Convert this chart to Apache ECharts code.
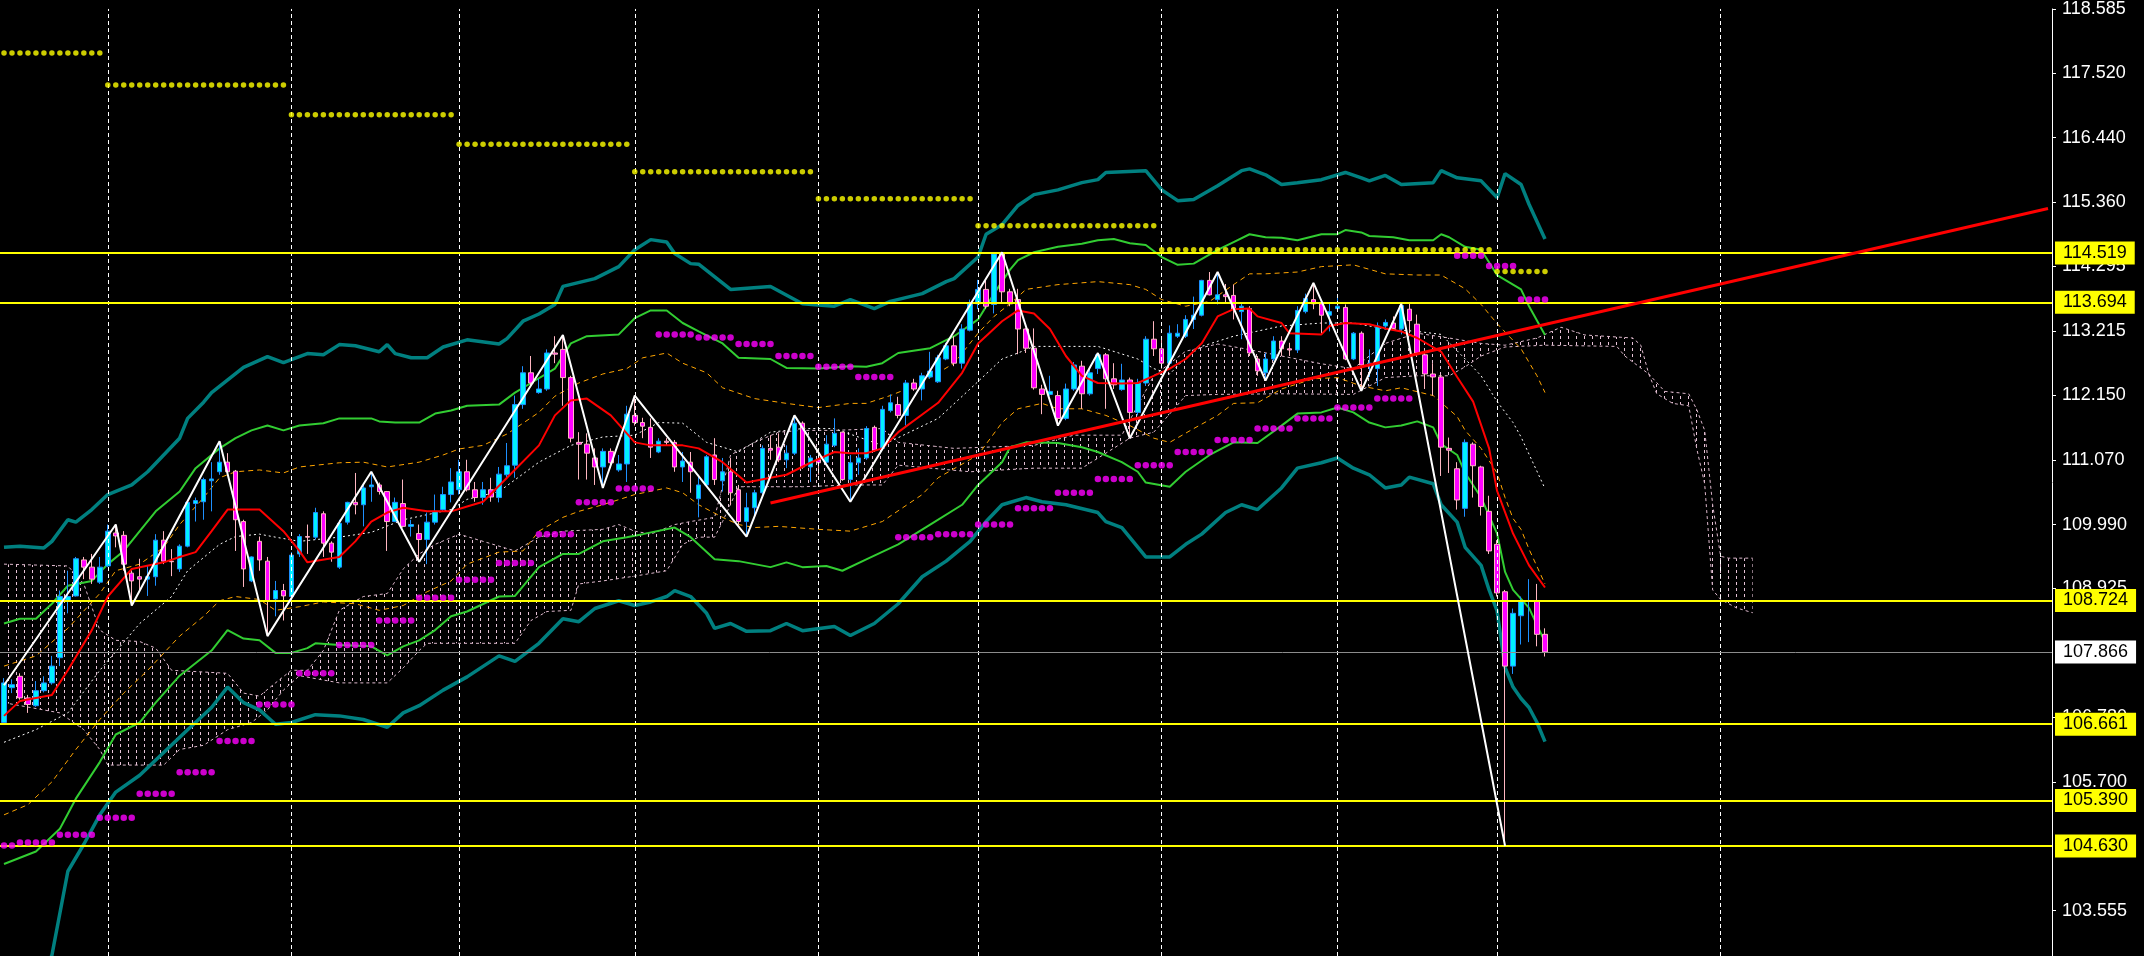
<!DOCTYPE html>
<html><head><meta charset="utf-8">
<script src="https://cdn.jsdelivr.net/npm/echarts@6/dist/echarts.min.js"></script>
<style>html,body{margin:0;padding:0;background:#000;}#c{width:2144px;height:956px;}</style>
</head><body><div id="c"></div>
<script>
// ---------- DATA ----------
const barCount = 257; // 194 price bars + future space
const categories = Array.from({length: barCount}, (_, i) => String(i));

const open = [106.69,107.27,107.46,107.10,106.97,107.22,107.35,107.77,108.71,108.80,
109.40,109.28,109.03,109.30,109.85,109.81,109.18,109.12,109.08,109.12,
109.73,109.38,109.25,109.63,110.34,110.37,110.72,110.87,111.03,110.88,
110.04,109.05,109.71,109.38,108.75,108.89,108.79,109.50,109.79,109.78,
110.17,109.68,109.28,110.03,110.36,110.32,110.62,110.65,110.54,110.04,
110.34,109.96,109.84,109.74,110.03,110.24,110.49,110.57,110.87,110.57,
110.44,110.57,110.44,110.82,110.98,111.99,112.52,112.19,112.25,112.85,
112.91,112.44,111.36,111.33,111.10,110.95,111.21,110.90,111.00,111.81,
111.69,111.61,111.20,111.38,111.36,110.95,111.03,110.42,110.65,111.15,
110.72,110.87,110.57,110.04,110.27,110.52,111.26,111.28,111.07,111.18,
111.68,110.95,111.07,111.03,111.31,111.53,110.74,111.02,111.10,111.61,
111.26,111.89,111.99,111.81,112.35,112.25,112.45,112.37,112.75,112.97,
112.68,113.23,113.67,113.91,113.66,114.50,113.87,113.74,113.25,112.93,
112.25,112.16,112.14,111.76,112.25,112.63,112.17,112.59,112.82,112.42,
112.24,112.40,111.86,112.35,113.08,112.92,112.68,113.13,113.13,113.41,
113.48,114.06,113.74,113.82,113.81,113.54,113.59,112.75,112.52,112.75,
113.05,112.92,112.90,113.54,113.74,113.67,113.48,113.59,113.61,112.75,
113.18,112.65,112.59,113.30,113.35,113.25,113.58,113.33,112.82,112.50,
112.45,111.26,110.92,110.26,111.33,110.95,110.21,109.66,108.87,107.63,
108.47,108.71,108.72,108.16];
const close = [107.35,107.32,107.10,106.99,107.22,107.35,107.63,108.79,108.79,109.42,
109.28,109.08,109.28,109.88,109.80,109.33,109.05,109.08,109.12,109.73,
109.38,109.37,109.63,110.36,110.39,110.74,110.75,111.03,110.87,110.07,
109.25,109.45,109.40,108.72,108.89,108.80,109.48,109.79,109.78,110.19,
109.68,109.53,110.01,110.36,110.32,110.60,110.65,110.54,110.04,110.36,
109.96,109.99,109.74,110.03,110.21,110.49,110.70,110.87,110.57,110.44,
110.57,110.45,110.83,110.97,111.99,112.52,112.35,112.25,112.85,112.83,
112.44,111.43,111.33,111.18,110.95,111.21,111.02,111.00,111.83,111.69,
111.63,111.28,111.38,111.36,110.95,111.05,110.87,110.65,111.12,110.74,
110.87,110.52,110.04,110.27,110.52,111.26,111.23,111.07,111.18,111.68,
110.95,111.10,111.02,111.33,111.51,110.74,111.02,111.10,111.59,111.23,
111.91,112.02,111.81,112.35,112.25,112.47,112.55,112.77,112.97,112.68,
113.25,113.67,113.91,113.63,114.50,113.87,113.67,113.25,112.93,112.27,
112.16,112.21,111.76,112.25,112.65,112.17,112.52,112.82,112.42,112.32,
112.40,111.86,112.35,113.08,112.92,112.68,113.18,113.18,113.41,113.48,
114.06,113.82,113.82,113.79,113.58,113.63,112.85,112.55,112.75,113.05,
112.92,112.90,113.56,113.76,113.67,113.48,113.54,113.63,112.75,113.18,
112.65,112.68,113.30,113.36,113.26,113.64,113.39,112.85,112.50,112.45,
111.28,111.23,110.40,111.36,110.97,110.29,109.55,108.85,107.63,108.51,
108.72,108.72,108.16,107.866];
const low = [106.66,107.18,107.07,106.85,106.95,107.19,107.32,107.63,108.51,108.79,
109.08,109.00,109.00,109.28,109.61,109.22,108.64,108.89,108.80,108.97,
109.33,109.13,109.20,109.61,110.04,110.07,110.21,110.82,110.82,109.55,
108.95,109.03,109.22,108.13,108.46,108.39,108.72,109.45,109.50,109.74,
109.45,109.37,109.25,109.99,110.16,109.96,110.37,110.49,109.55,110.03,
109.94,109.79,109.37,109.33,109.99,110.21,110.36,110.49,110.54,110.37,
110.32,110.37,110.36,110.77,110.77,111.92,112.30,112.17,112.22,112.68,
111.97,111.36,110.74,110.74,110.65,110.60,110.93,110.87,110.70,111.64,
111.43,111.10,111.18,111.31,110.87,110.70,110.52,110.11,110.62,110.65,
110.54,110.32,109.99,109.79,110.11,110.49,111.07,111.03,110.93,111.15,
110.92,110.70,110.82,111.02,111.28,110.72,110.37,110.82,111.07,111.20,
111.23,111.86,111.76,111.64,112.22,112.06,112.42,112.35,112.73,112.63,
112.59,113.21,113.58,113.59,113.51,113.67,113.63,112.83,112.85,112.24,
111.83,112.14,111.64,111.73,112.22,111.92,112.14,112.50,111.92,112.25,
112.22,111.43,111.81,112.30,112.80,112.59,112.67,113.10,113.10,113.25,
113.46,113.81,113.66,113.67,113.41,113.08,112.80,112.47,112.39,112.72,
112.80,112.80,112.85,113.51,113.58,113.18,113.21,113.54,112.73,112.73,
112.22,112.45,112.30,113.25,113.25,113.16,113.18,112.80,112.25,112.14,
110.80,110.85,110.24,110.12,110.44,110.14,109.50,108.79,104.63,107.50,
107.99,108.03,107.96,107.79];
const high = [107.43,107.41,107.51,107.15,107.38,107.46,107.80,108.89,109.22,109.45,
109.45,109.50,109.45,109.99,109.99,109.88,109.23,109.42,109.30,109.83,
109.88,109.58,109.66,110.37,110.44,110.77,111.03,111.38,111.18,110.90,
110.07,109.46,109.79,109.45,109.05,109.00,109.53,109.83,109.99,110.27,
110.21,109.71,110.07,110.37,110.85,110.67,110.87,110.69,110.55,110.44,
110.74,110.07,109.99,110.19,110.49,110.62,110.93,111.07,111.07,110.70,
110.70,110.77,110.95,111.35,112.14,112.63,112.80,112.42,112.91,113.13,
113.15,112.47,111.53,111.51,111.26,111.26,111.26,111.15,111.97,112.14,
111.77,111.76,111.43,111.43,111.40,111.20,111.20,110.82,111.15,111.43,
111.10,111.10,110.65,110.52,110.57,111.31,111.48,111.51,111.31,111.81,
111.71,111.15,111.23,111.48,111.76,111.54,111.15,111.26,111.63,111.64,
111.97,112.16,112.12,112.40,112.42,112.52,112.87,112.82,113.02,113.13,
113.33,113.74,114.07,114.06,114.53,114.53,113.92,113.92,113.26,113.26,
112.32,112.47,112.22,112.34,112.70,112.72,112.59,112.85,112.85,112.68,
112.67,112.44,112.42,113.13,113.38,113.08,113.31,113.33,113.48,113.79,
114.07,114.20,114.20,114.00,113.99,113.67,113.63,112.80,112.85,113.13,
113.13,113.02,113.63,113.84,114.02,113.71,113.67,113.79,113.66,113.20,
113.21,112.91,113.36,113.41,113.46,113.67,113.67,113.49,112.85,112.68,
112.49,111.44,111.03,111.41,111.36,110.97,110.47,109.73,108.90,108.59,
108.79,109.08,109.00,108.26];

// indicator lines: [barIndex, price]
const bandOuterUpper = [[0,109.61],[2,109.63],[5,109.60],[6,109.71],[8,110.07],[9,110.03],[11,110.24],[13,110.49],[16,110.65],[18,110.87],[20,111.15],[22,111.43],[23,111.76],[25,112.03],[26,112.19],[30,112.61],[33,112.79],[35,112.69],[38,112.84],[40,112.82],[42,112.99],[44,112.97],[47,112.87],[48,112.99],[49,112.84],[51,112.77],[53,112.77],[55,112.95],[58,113.07],[62,113.00],[63,113.09],[65,113.38],[67,113.50],[69,113.66],[70,113.96],[74,114.09],[77,114.29],[79,114.57],[81,114.74],[83,114.70],[84,114.51],[86,114.34],[87,114.33],[91,113.91],[96,113.96],[100,113.67],[104,113.63],[106,113.74],[109,113.59],[111,113.71],[115,113.84],[118,114.04],[119,114.09],[122,114.45],[123,114.83],[125,114.99],[127,115.31],[129,115.49],[132,115.57],[135,115.69],[137,115.74],[138,115.86],[143,115.89],[145,115.57],[147,115.39],[149,115.41],[152,115.64],[155,115.89],[156,115.92],[158,115.82],[160,115.66],[162,115.69],[165,115.74],[168,115.86],[170,115.77],[171,115.72],[173,115.81],[175,115.66],[179,115.69],[180,115.89],[182,115.77],[185,115.72],[187,115.44],[188,115.84],[190,115.66],[191,115.33],[193,114.75]];
const bandOuterLower = [[0,100.91],[6,102.81],[8,104.21],[10,104.66],[12,105.15],[14,105.53],[17,105.81],[20,106.19],[23,106.57],[26,106.94],[28,107.28],[30,107.02],[32,106.90],[34,106.66],[36,106.69],[39,106.82],[42,106.80],[45,106.74],[48,106.61],[50,106.85],[52,106.97],[55,107.23],[58,107.45],[62,107.80],[64,107.71],[67,108.01],[70,108.42],[72,108.37],[74,108.59],[77,108.72],[79,108.64],[81,108.70],[83,108.79],[84,108.89],[86,108.79],[88,108.51],[89,108.26],[91,108.34],[93,108.21],[96,108.22],[98,108.34],[100,108.22],[104,108.29],[106,108.14],[109,108.34],[112,108.67],[115,109.12],[118,109.38],[121,109.71],[123,110.04],[125,110.32],[128,110.44],[130,110.37],[133,110.32],[137,110.19],[138,110.04],[140,109.94],[143,109.45],[146,109.45],[148,109.66],[150,109.83],[153,110.19],[155,110.32],[157,110.24],[160,110.60],[162,110.93],[165,111.02],[167,111.10],[169,110.93],[171,110.82],[173,110.60],[175,110.65],[176,110.78],[179,110.67],[180,110.32],[182,110.03],[183,109.61],[185,109.31],[186,108.90],[187,108.55],[188,107.61],[189,107.28],[190,107.09],[191,106.94],[192,106.69],[193,106.37]];
const bandMidUpper = [[0,108.34],[2,108.42],[4,108.42],[6,108.67],[8,108.97],[11,109.05],[13,109.33],[15,109.55],[17,109.88],[19,110.21],[22,110.54],[24,110.93],[27,111.26],[29,111.43],[31,111.56],[33,111.64],[35,111.56],[37,111.64],[40,111.68],[42,111.76],[46,111.76],[47,111.71],[49,111.69],[52,111.69],[54,111.84],[56,111.89],[58,111.97],[62,111.99],[64,112.19],[66,112.35],[69,112.59],[71,113.01],[73,113.13],[77,113.16],[79,113.43],[81,113.56],[83,113.56],[85,113.35],[87,113.21],[90,113.01],[92,112.77],[96,112.75],[98,112.60],[102,112.59],[106,112.63],[108,112.62],[110,112.68],[112,112.85],[116,112.93],[119,113.13],[122,113.41],[124,113.84],[126,114.24],[127,114.40],[129,114.53],[132,114.62],[135,114.67],[137,114.73],[139,114.75],[141,114.68],[143,114.65],[145,114.45],[147,114.32],[149,114.34],[152,114.57],[154,114.70],[156,114.83],[158,114.78],[160,114.77],[162,114.73],[165,114.83],[167,114.83],[168,114.90],[170,114.86],[171,114.80],[174,114.78],[176,114.73],[179,114.73],[180,114.83],[181,114.78],[183,114.62],[185,114.57],[187,114.15],[190,113.91],[191,113.63],[193,113.15]];
const bandMidLower = [[0,104.33],[4,104.54],[7,104.92],[9,105.42],[12,106.03],[14,106.49],[17,106.69],[19,107.02],[22,107.47],[26,107.89],[28,108.23],[30,108.09],[32,108.06],[34,107.85],[36,107.85],[38,107.93],[39,108.01],[42,107.98],[46,107.96],[48,107.81],[50,107.96],[52,108.06],[54,108.23],[56,108.46],[58,108.54],[62,108.79],[64,108.80],[67,109.28],[70,109.50],[72,109.50],[75,109.71],[78,109.78],[80,109.83],[84,109.94],[86,109.78],[89,109.41],[92,109.38],[96,109.28],[98,109.36],[100,109.28],[103,109.30],[105,109.22],[108,109.41],[112,109.66],[116,109.99],[120,110.32],[122,110.65],[125,111.03],[126,111.28],[128,111.36],[132,111.35],[135,111.28],[137,111.20],[140,111.03],[142,110.87],[143,110.69],[146,110.62],[148,110.87],[151,111.15],[154,111.36],[157,111.35],[160,111.64],[162,111.84],[165,111.86],[167,111.94],[169,111.86],[171,111.69],[173,111.61],[175,111.64],[177,111.71],[179,111.61],[180,111.33],[182,111.15],[183,110.85],[185,110.44],[187,109.84],[188,109.20],[189,108.90],[191,108.60],[193,108.03]];
const bandInnerUpper = [[0,107.63],[4,107.80],[8,108.26],[12,108.84],[14,109.22],[17,109.33],[20,109.61],[22,109.99],[25,110.44],[27,110.77],[29,110.87],[32,110.90],[35,110.85],[37,110.95],[42,111.02],[45,111.03],[48,110.95],[52,111.03],[55,111.15],[57,111.25],[60,111.31],[63,111.50],[67,111.86],[69,112.13],[72,112.35],[75,112.50],[78,112.59],[80,112.77],[83,112.85],[85,112.68],[88,112.52],[90,112.27],[94,112.09],[98,112.01],[102,111.94],[106,112.01],[108,112.01],[111,112.14],[114,112.30],[117,112.52],[119,112.68],[122,113.18],[124,113.46],[126,113.67],[128,113.91],[132,113.99],[137,114.04],[141,113.99],[143,113.91],[145,113.74],[148,113.63],[151,113.71],[154,113.99],[156,114.17],[158,114.17],[162,114.20],[165,114.29],[169,114.32],[173,114.17],[177,114.15],[180,114.15],[183,113.92],[185,113.66],[187,113.34],[190,112.92],[192,112.47],[193,112.19]];
const bandInnerLower = [[0,105.15],[3,105.32],[6,105.70],[9,106.24],[12,106.74],[15,107.18],[18,107.56],[22,108.13],[25,108.46],[27,108.72],[29,108.79],[32,108.74],[34,108.56],[37,108.62],[40,108.70],[44,108.67],[47,108.56],[50,108.64],[53,108.87],[56,109.05],[58,109.33],[62,109.53],[65,109.55],[67,109.88],[70,110.11],[72,110.21],[75,110.32],[79,110.49],[83,110.60],[85,110.52],[87,110.32],[90,110.11],[92,109.99],[94,109.94],[97,109.96],[102,109.91],[106,109.88],[110,110.04],[115,110.49],[117,110.77],[122,111.15],[125,111.69],[127,111.92],[130,112.01],[132,111.92],[135,111.92],[138,111.81],[141,111.64],[144,111.43],[146,111.36],[149,111.59],[152,111.81],[154,112.01],[157,112.02],[160,112.25],[164,112.42],[167,112.44],[170,112.30],[173,112.22],[175,112.27],[179,112.14],[182,111.79],[183,111.56],[185,111.26],[187,110.85],[188,110.44],[189,110.09],[190,109.91],[191,109.58],[193,109.00]];
const movingAverage = [[0,106.80],[2,107.05],[6,107.15],[8,107.56],[11,108.23],[13,108.79],[16,109.25],[20,109.36],[22,109.45],[24,109.53],[26,109.88],[28,110.24],[32,110.24],[35,109.88],[37,109.55],[38,109.36],[42,109.45],[44,109.71],[46,110.04],[48,110.19],[50,110.27],[53,110.21],[56,110.21],[58,110.29],[60,110.37],[63,110.77],[67,111.31],[69,111.81],[71,112.06],[73,112.09],[76,111.81],[79,111.36],[81,111.31],[85,111.31],[87,111.26],[90,111.03],[93,110.69],[96,110.77],[98,110.82],[101,111.02],[104,111.20],[106,111.18],[108,111.18],[110,111.26],[112,111.53],[117,112.02],[120,112.52],[122,113.01],[125,113.38],[127,113.56],[129,113.51],[131,113.25],[133,112.80],[135,112.47],[137,112.35],[140,112.34],[142,112.35],[144,112.47],[146,112.59],[148,112.75],[150,113.01],[152,113.46],[154,113.58],[156,113.59],[157,113.46],[160,113.35],[161,113.18],[165,113.16],[166,113.30],[168,113.35],[171,113.33],[173,113.26],[175,113.21],[177,113.10],[180,112.87],[182,112.45],[184,112.04],[186,111.26],[187,110.55],[189,109.84],[191,109.31],[193,108.94]];
const slowLine = [[0,106.36],[4,106.57],[8,106.85],[12,107.56],[17,108.34],[21,108.79],[23,109.22],[27,109.66],[29,109.79],[32,109.83],[34,109.78],[37,109.71],[42,109.78],[46,109.86],[50,110.07],[56,110.24],[58,110.41],[62,110.54],[67,111.03],[71,111.31],[75,111.45],[79,111.48],[82,111.69],[85,111.68],[88,111.36],[92,111.20],[96,111.53],[100,111.59],[104,111.59],[110,111.31],[117,111.76],[121,112.25],[125,112.75],[127,112.85],[129,112.96],[137,112.96],[142,112.75],[144,112.59],[146,112.50],[148,112.77],[150,112.96],[154,113.13],[160,113.30],[165,113.35],[169,113.35],[173,113.25],[177,113.21],[180,113.16],[183,112.75],[185,112.47],[187,112.04],[189,111.69],[190,111.45],[193,110.59]];
const cloudTop = [[0,109.33],[8,109.30],[10,109.00],[12,108.23],[14,108.06],[17,108.04],[19,107.93],[21,107.56],[28,107.51],[30,107.18],[32,107.13],[34,107.35],[36,107.56],[38,107.56],[40,107.89],[42,108.56],[45,108.79],[48,108.84],[50,109.25],[52,109.50],[54,109.66],[57,109.83],[60,109.71],[64,109.55],[67,109.78],[70,109.88],[75,109.91],[77,109.99],[79,109.88],[81,109.83],[84,109.99],[86,110.04],[89,110.11],[91,111.15],[94,111.36],[97,111.53],[100,111.56],[104,111.56],[110,111.59],[112,111.36],[119,111.26],[129,111.31],[134,111.48],[140,111.48],[144,112.47],[148,112.88],[152,113.00],[155,112.93],[160,112.80],[165,112.67],[169,112.59],[173,113.01],[177,113.18],[181,113.10],[185,113.01],[188,112.98],[192,113.10],[195,113.28],[198,113.15],[204,113.10],[205,112.98],[206,112.50],[208,112.21],[211,112.17],[212,111.91],[213,111.56],[214,110.32],[215,109.46],[216,109.43],[219,109.43]];
const cloudBottom = [[0,107.02],[7,106.85],[10,106.57],[12,106.24],[13,105.98],[20,105.98],[22,106.24],[25,106.31],[28,106.57],[31,106.69],[33,106.90],[35,107.23],[37,107.47],[42,107.35],[48,107.35],[50,107.60],[52,107.89],[53,108.01],[58,108.01],[64,108.01],[66,108.39],[68,108.54],[71,108.56],[72,109.00],[75,109.05],[79,109.13],[83,109.22],[85,109.66],[87,109.78],[89,109.78],[90,110.04],[92,110.62],[100,110.62],[106,110.65],[110,110.65],[112,110.98],[121,110.87],[129,110.93],[135,110.93],[141,111.43],[144,111.53],[148,112.14],[152,112.16],[160,112.17],[169,112.16],[173,112.44],[177,112.47],[181,112.47],[183,112.62],[185,112.80],[188,112.95],[193,112.98],[202,112.96],[203,112.80],[206,112.50],[207,112.17],[209,112.01],[211,111.97],[212,111.26],[213,110.67],[214,108.90],[215,108.74],[217,108.60],[219,108.52]];

// zigzag vertices
const zigIdx   = [0, 14, 16, 27, 33, 46, 52, 70, 75, 79, 93, 99, 106, 125, 132, 137, 141, 152, 158, 164, 170, 175, 188];
const zigPrice = [107.31,109.99,108.64,111.38,108.13,110.87,109.37,113.15,110.60,112.14,109.79,111.81,110.37,114.53,111.64,112.85,111.43,114.20,112.39,114.02,112.22,113.67,104.63];

// trend line end points
const trendIdx = [96, 256];
const trendPrice = [110.35, 115.26];

// weekly (magenta) dot levels: from bar, to bar, price
const weekFrom  = [0,2,7,12,17,22,27,32,37,42,47,52,57,62,67,72,77,82,87,92,97,102,107,112,117,122,127,132,137,142,147,152,157,162,167,172,182,186,190];
const weekTo    = [1,6,11,16,21,26,31,36,41,46,51,56,61,66,71,76,81,86,91,96,101,106,111,116,121,126,131,136,141,146,151,156,161,166,171,176,185,189,193];
const weekLevel = [104.64,104.69,104.82,105.10,105.50,105.86,106.38,106.99,107.51,107.98,108.39,108.77,109.07,109.35,109.83,110.36,110.59,113.16,113.11,113.00,112.80,112.62,112.45,109.78,109.83,109.99,110.26,110.52,110.75,110.98,111.20,111.40,111.59,111.76,111.94,112.09,114.47,114.30,113.74];

// monthly (yellow) dot levels
const monthFrom  = [0,13,36,57,79,102,122,145,187];
const monthTo    = [12,35,56,78,101,121,144,186,193];
const monthLevel = [117.85,117.32,116.82,116.33,115.87,115.42,114.97,114.57,114.21];

// horizontal levels with labels
const hLevels = [114.519, 113.694, 108.724, 106.661, 105.390, 104.630];
const lastPrice = 107.866;

// vertical period separators (bar index)
const separators = [13, 36, 57, 79, 102, 122, 145, 167, 187, 215];

// price axis
const yMin = 102.797, yMax = 118.586;
const yTicks = [118.585,117.520,116.440,115.360,114.295,113.215,112.150,111.070,109.990,108.925,106.780,105.700,103.555];

// ---------- BUILD ----------
const FONT = 'Liberation Sans';
const candleData = open.map((o, i) => [o, close[i], low[i], high[i]]);
const weekDots = [];
weekFrom.forEach((f, k) => { for (let i = f; i <= weekTo[k]; i++) weekDots.push([i, weekLevel[k]]); });
const monthDots = [];
monthFrom.forEach((f, k) => { for (let i = f; i <= monthTo[k]; i++) monthDots.push([i, monthLevel[k]]); });
const zigData = zigIdx.map((x, k) => [x, zigPrice[k]]);
const trendData = trendIdx.map((x, k) => [x, trendPrice[k]]);

// hatch pattern for the cloud
const pc = document.createElement('canvas');
pc.width = 8; pc.height = 6;
const g = pc.getContext('2d');
g.fillStyle = '#E6C2D6';
g.fillRect(0, 0, 1, 3);

function lineSeries(data, color, width, type, z) {
  return { type: 'line', data: data, symbol: 'none', smooth: false, z: z,
    lineStyle: { color: color, width: width, type: type }, silent: true };
}
const boxLabel = (bg, list) => ({
  show: true, position: 'end', distance: 3,
  formatter: p => list[p.dataIndex].toFixed(3),
  color: '#000000', backgroundColor: bg, fontFamily: FONT, fontSize: 18,
  padding: [3, 8, 2, 8], lineHeight: 18
});

const chart = echarts.init(document.getElementById('c'));
chart.setOption({
  animation: false,
  backgroundColor: '#000000',
  grid: { left: -4, right: 92, top: 0, bottom: 0, containLabel: false },
  xAxis: { type: 'category', data: categories, boundaryGap: true, show: false },
  yAxis: {
    type: 'value', position: 'right', min: yMin, max: yMax,
    axisLine: { show: true, lineStyle: { color: '#FFFFFF', width: 1 } },
    axisTick: { show: true, customValues: yTicks, length: 4, lineStyle: { color: '#FFFFFF' } },
    axisLabel: { show: true, customValues: yTicks, color: '#FFFFFF', fontFamily: FONT, fontSize: 18,
      margin: 10, verticalAlignMaxLabel: 'middle', verticalAlignMinLabel: 'middle',
      formatter: v => Number(v).toFixed(3) },
    splitLine: { show: false }
  },
  series: [
    { type: 'line', data: [], z: 0, silent: true,
      markLine: { silent: true, symbol: 'none', animation: false, label: { show: false },
        lineStyle: { color: '#FFFFFF', width: 1, type: [4, 3] },
        data: separators.map(i => ({ xAxis: i })) } },
    { type: 'custom', z: 1, silent: true, data: [[0, 110]],
      renderItem: function (params, api) {
        const pts = [];
        cloudTop.forEach(p => pts.push(api.coord(p)));
        for (let k = cloudBottom.length - 1; k >= 0; k--) pts.push(api.coord(cloudBottom[k]));
        return { type: 'polygon', shape: { points: pts },
          style: { fill: { image: pc, repeat: 'repeat' }, stroke: null } };
      } },
    lineSeries(cloudTop, '#DDB8CC', 1, [3, 3], 2),
    lineSeries(cloudBottom, '#DDB8CC', 1, [3, 3], 2),
    lineSeries(slowLine, '#FFFFFF', 1, [2, 3], 3),
    lineSeries(bandInnerUpper, '#FFA500', 1, [5, 4], 3),
    lineSeries(bandInnerLower, '#FFA500', 1, [5, 4], 3),
    lineSeries(bandMidUpper, '#32CD32', 2, 'solid', 3),
    lineSeries(bandMidLower, '#32CD32', 2, 'solid', 3),
    lineSeries(bandOuterUpper, '#008080', 3.5, 'solid', 3),
    lineSeries(bandOuterLower, '#008080', 3.5, 'solid', 3),
    { type: 'candlestick', data: candleData, barWidth: 5, z: 4, silent: true,
      itemStyle: { color: '#00F0FF', color0: '#FF00FF', borderColor: '#1E90FF', borderColor0: '#FFB6C1', borderWidth: 1 } },
    lineSeries(movingAverage, '#FF0000', 2, 'solid', 5),
    { type: 'line', data: [], z: 6, silent: true,
      markLine: { silent: true, symbol: 'none', animation: false, precision: 3,
        lineStyle: { color: '#FFFF00', width: 2, type: 'solid' },
        label: boxLabel('#FFFF00', hLevels),
        data: hLevels.map(v => ({ yAxis: v })) } },
    { type: 'line', data: [], z: 6, silent: true,
      markLine: { silent: true, symbol: 'none', animation: false, precision: 3,
        lineStyle: { color: '#8C8C8C', width: 1, type: 'solid' },
        label: boxLabel('#FFFFFF', [lastPrice]),
        data: [{ yAxis: lastPrice }] } },
    lineSeries(zigData, '#FFFFFF', 2, 'solid', 7),
    lineSeries(trendData, '#FF0000', 3, 'solid', 8),
    { type: 'scatter', data: weekDots, symbol: 'circle', symbolSize: 6.5, z: 9, silent: true,
      itemStyle: { color: '#FF00FF' } },
    { type: 'scatter', data: monthDots, symbol: 'circle', symbolSize: 5.5, z: 9, silent: true,
      itemStyle: { color: '#FFFF00' } }
  ]
});
</script>
</body></html>
